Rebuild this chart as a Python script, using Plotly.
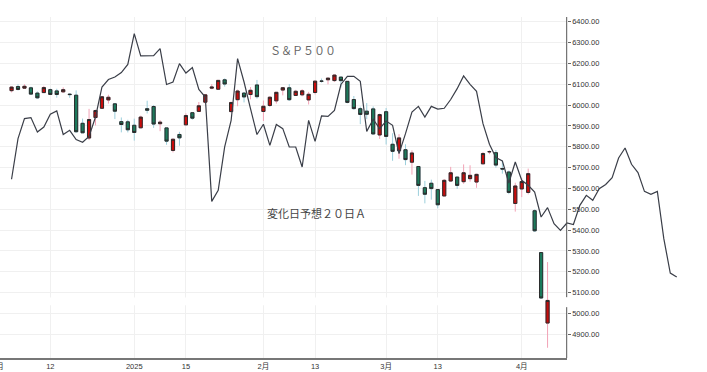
import plotly.graph_objects as go
import pandas as pd

# ---------------- data ----------------
holidays = ['2024-12-25', '2025-01-01', '2025-01-09', '2025-01-20', '2025-02-17', '2025-04-18']
trading_days = pd.bdate_range('2024-12-02', '2025-05-06', freq='C', holidays=holidays)
first_candle = '2024-12-04'

opens = [6069.39, 6089.03, 6081.38, 6083.01, 6057.59, 6060.15, 6074.29, 6068.17, 6063.79, 6052.55,
         6047.65, 5912.71, 5842.00, 5940.25, 5984.74, 6024.97, 6006.17, 5920.67, 5919.74,
         5903.26, 5891.07, 5982.81, 5993.26, 5910.66, 5890.66, 5782.32, 5859.14, 5905.21, 5963.61,
         5969.93, 6014.12, 6081.39, 6076.14, 6121.43, 5969.04, 6026.01, 6057.70, 6050.75, 6096.79,
         5969.65, 5998.14, 6020.45, 6072.22, 6083.13, 6046.40, 6049.32, 6025.08, 6060.59, 6115.52,
         6121.60, 6117.76, 6134.50, 6114.10, 6026.69, 5982.73, 5970.87, 5981.88, 5856.74,
         5968.33, 5811.98, 5781.36, 5785.87, 5726.01, 5705.37, 5603.65, 5624.84, 5594.45, 5563.85,
         5635.60, 5654.53, 5632.37, 5646.92, 5630.73, 5718.08, 5775.86, 5771.66, 5695.64, 5679.04,
         5527.91, 5597.53, 5580.76, 5492.87, 5292.14, 4953.79]
highs = [6089.84, 6099.97, 6099.97, 6088.51, 6065.40, 6092.59, 6079.68, 6078.58, 6085.19, 6057.68,
         6070.67, 5935.52, 5982.06, 5978.25, 6040.10, 6049.75, 6006.17, 5940.79, 5929.74,
         5935.09, 5949.34, 6021.04, 6000.68, 5927.89, 5890.66, 5838.79, 5871.72, 5960.61, 5964.69,
         6014.96, 6051.51, 6100.81, 6118.73, 6128.18, 6017.17, 6074.54, 6062.83, 6086.64, 6120.91,
         6022.13, 6042.48, 6062.86, 6084.03, 6101.28, 6073.38, 6076.28, 6063.62, 6116.91, 6127.47,
         6129.63, 6147.43, 6134.50, 6114.82, 6043.65, 5992.65, 6009.82, 5993.69, 5959.40,
         5986.09, 5865.08, 5860.59, 5812.08, 5783.01, 5705.37, 5636.30, 5642.19, 5597.78, 5645.27,
         5703.52, 5654.53, 5715.33, 5711.15, 5670.84, 5775.14, 5783.23, 5784.62, 5732.28, 5685.89,
         5627.56, 5650.57, 5695.31, 5499.53, 5292.14, 5246.59]
lows = [6061.06, 6070.53, 6079.98, 6048.63, 6029.89, 6060.15, 6051.25, 6035.77, 6059.14, 6035.19,
        5867.79, 5866.07, 5832.30, 5902.57, 5981.44, 6007.37, 5932.95, 5869.16, 5868.86,
        5829.53, 5888.66, 5960.01, 5890.68, 5874.78, 5809.44, 5773.01, 5805.01, 5905.21, 5930.28,
        5969.93, 6006.88, 6076.31, 6074.67, 6088.74, 5962.92, 5994.63, 6012.96, 6027.46, 6030.93,
        5923.93, 5990.87, 6007.06, 6046.83, 6019.96, 6045.80, 6042.34, 6003.00, 6051.00, 6107.62,
        6099.51, 6111.15, 6084.59, 6008.56, 5977.83, 5908.49, 5932.69, 5858.78, 5837.66,
        5810.91, 5732.59, 5742.35, 5711.64, 5666.29, 5564.02, 5528.41, 5546.09, 5504.65, 5563.85,
        5631.12, 5597.76, 5622.20, 5632.57, 5603.10, 5718.08, 5764.38, 5699.28, 5670.94, 5572.42,
        5488.73, 5558.52, 5571.48, 5390.83, 5069.90, 4835.04]
closes = [6086.49, 6075.11, 6090.27, 6052.85, 6034.91, 6084.19, 6051.25, 6051.09, 6074.08, 6050.61,
          5872.16, 5867.08, 5930.85, 5974.07, 6040.04, 6037.59, 5970.84, 5906.94, 5881.63,
          5868.55, 5942.47, 5975.38, 5909.03, 5918.25, 5827.04, 5836.22, 5842.91, 5949.91, 5937.34,
          5996.66, 6049.24, 6086.37, 6118.71, 6101.24, 6012.28, 6067.70, 6039.31, 6071.17, 6040.53,
          5994.57, 6037.88, 6061.48, 6083.57, 6025.99, 6066.44, 6068.50, 6051.97, 6115.07, 6114.63,
          6129.58, 6144.15, 6117.52, 6013.13, 5983.25, 5955.25, 5956.06, 5861.57, 5954.50,
          5849.72, 5778.15, 5842.63, 5738.52, 5770.20, 5614.56, 5572.07, 5599.30, 5521.52, 5638.94,
          5675.12, 5614.66, 5675.29, 5662.89, 5667.56, 5767.57, 5776.65, 5712.20, 5693.31, 5580.94,
          5611.85, 5633.07, 5670.97, 5396.52, 5074.08, 5062.25]

# 変化日予想２０日Ａ (starts with first candle, runs 20 sessions past the last one)
line_values = [5644, 5839, 5935, 5940, 5871, 5895, 5956, 5972, 5859, 5879,
               5835, 5822, 5850, 5943, 6087, 6123, 6135, 6156, 6195, 6343,
               6236, 6236, 6238, 6271, 6099, 6111, 6199, 6154, 6180, 6075,
               6039, 5538, 5591, 5799, 5927, 6223, 6111, 5983, 5859, 5908,
               5807, 5907, 5887, 5799, 5799, 5703, 5927, 5826, 5948, 5946,
               5975, 6099, 6138, 6138, 6114, 5874, 5932, 5887, 5924, 5903,
               5767, 5863, 5967, 5994, 5943, 5994, 5981, 5985, 6027, 6079,
               6140, 6100, 6066, 5911, 5812, 5748, 5732, 5626, 5727, 5639,
               5615, 5583, 5463, 5508, 5431, 5399, 5434, 5427, 5519, 5567,
               5543, 5599, 5619, 5652, 5746, 5794, 5716, 5676, 5586, 5572,
               5586, 5359, 5194, 5175]

tick_dates = ['2024-12-12', '2025-01-02', '2025-01-15', '2025-02-03', '2025-02-13',
              '2025-03-03', '2025-03-13', '2025-04-01']
tick_text = ['12', '2025', '15', '2月', '13', '3月', '13', '4月']
first_tick_text = '12月'
y_ticks = list(range(4900, 6401, 100))

# ---------------- geometry ----------------
W, H = 707, 372
PLOT_RIGHT = 566.7
TOP, BOTTOM = 16.7, 357.7
PX_PER_DAY = 6.458
X0 = 0.211
Y_RANGE = [4786, 6423]

pos = {d.strftime('%Y-%m-%d'): i for i, d in enumerate(trading_days)}
start = pos[first_candle]
cx = list(range(start, start + len(opens)))
lx = list(range(start, start + len(line_values)))
tickvals = [pos[d] for d in tick_dates]
body_hi = [max(o, c) for o, c in zip(opens, closes)]
body_lo = [min(o, c) for o, c in zip(opens, closes)]

fig = go.Figure()
# wicks
fig.add_trace(go.Candlestick(
    x=cx, open=opens, high=highs, low=lows, close=closes,
    increasing=dict(line=dict(color='#f2a3b6', width=1), fillcolor='#f2a3b6'),
    decreasing=dict(line=dict(color='#9ccfdc', width=1), fillcolor='#9ccfdc'),
    whiskerwidth=0, showlegend=False, hoverinfo='skip'))
# bodies
fig.add_trace(go.Candlestick(
    x=cx, open=opens, high=body_hi, low=body_lo, close=closes,
    increasing=dict(line=dict(color='#2b2b2b', width=1), fillcolor='#c80c0c'),
    decreasing=dict(line=dict(color='#2b2b2b', width=1), fillcolor='#1c7a5c'),
    whiskerwidth=0, showlegend=False, hoverinfo='skip'))
# forecast line
fig.add_trace(go.Scatter(
    x=lx, y=line_values, mode='lines', xaxis='x2', yaxis='y2',
    line=dict(color='#3a3e48', width=1.2), showlegend=False, hoverinfo='skip'))

dom_r = PLOT_RIGHT / W
plot_h = BOTTOM - TOP

fig.update_layout(
    width=W, height=H,
    margin=dict(l=0, r=0, t=TOP, b=H - BOTTOM, autoexpand=False),
    paper_bgcolor='white', plot_bgcolor='rgba(0,0,0,0)',
    font=dict(family='Arial, Liberation Sans, Noto Sans CJK JP, sans-serif', size=8, color='#333'),
    xaxis=dict(domain=[0, dom_r], range=[X0, X0 + PLOT_RIGHT / PX_PER_DAY],
               tickvals=tickvals, ticktext=tick_text, showgrid=True, gridcolor='#f0f0f0',
               gridwidth=1, showline=True, linecolor='#777', linewidth=1.5, ticks='',
               tickfont=dict(size=7.5, color='#333'), zeroline=False,
               rangeslider=dict(visible=False), anchor='y'),
    yaxis=dict(domain=[0, 1], range=Y_RANGE, side='right', anchor='x',
               tickvals=y_ticks, tickformat='.2f', showgrid=True, gridcolor='#f0f0f0',
               showline=False, ticks='outside', ticklen=3, tickcolor='#666',
               tickfont=dict(size=7.5, color='#333'), zeroline=False),
    xaxis2=dict(domain=[0, 1], range=[X0, X0 + W / PX_PER_DAY], visible=False, anchor='y2'),
    yaxis2=dict(domain=[0, 1], range=Y_RANGE, visible=False, anchor='x2'),
    shapes=[
        dict(type='rect', xref='x', yref='y', x0=X0, x1=X0 + PLOT_RIGHT / PX_PER_DAY,
             y0=5039, y1=5077, fillcolor='white', line=dict(width=0), layer='between'),
        dict(type='line', xref='paper', yref='y', x0=dom_r, x1=dom_r, y0=5078, y1=Y_RANGE[1],
             line=dict(color='#555', width=1)),
        dict(type='line', xref='paper', yref='y', x0=dom_r, x1=dom_r, y0=Y_RANGE[0], y1=5030,
             line=dict(color='#555', width=1)),
    ],
    annotations=[
        dict(text='Ｓ＆Ｐ５００', xref='paper', yref='paper', x=303 / W, y=(BOTTOM - 40) / plot_h,
             showarrow=False, font=dict(family='Noto Sans CJK JP', size=11, color='#666')),
        dict(text='変化日予想２０日Ａ', xref='paper', yref='paper', x=316 / W,
             y=(BOTTOM - 212.5) / plot_h, showarrow=False,
             font=dict(family='Noto Sans CJK JP', size=11, color='#444')),
        dict(text=first_tick_text, xref='paper', yref='paper', xanchor='right', yanchor='middle',
             x=5.5 / W, y=(BOTTOM - 366.5) / plot_h,
             showarrow=False, font=dict(size=7.5, color='#333')),
    ],
)

fig.write_html('out.html')
